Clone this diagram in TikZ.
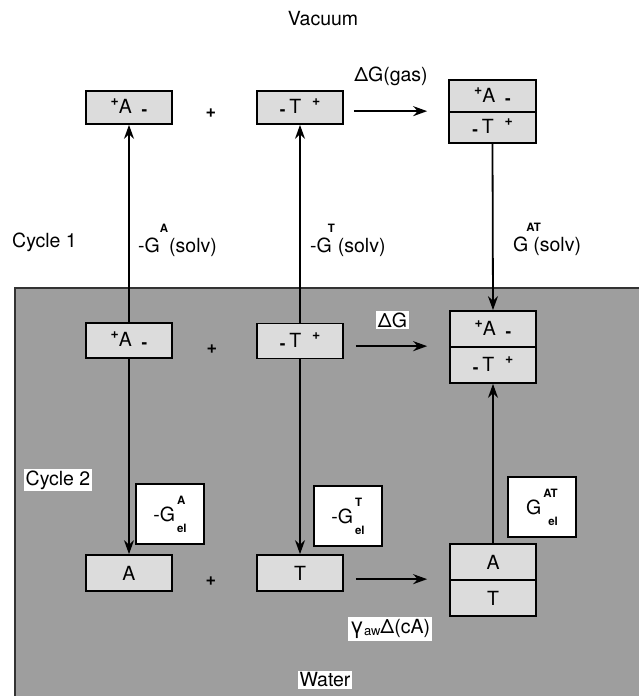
\documentclass[tikz,border=0pt]{standalone}
\usepackage{fontspec}
\setmainfont{TeX Gyre Heros}
\usetikzlibrary{arrows.meta}
\definecolor{waterg}{RGB}{158,158,158}
\definecolor{boxg}{RGB}{220,220,220}
\newcommand\upc[1]{\raisebox{0.40em}{\fontsize{14}{14}\selectfont\bfseries #1}}
\newcommand\dnc[1]{\raisebox{-0.12em}{\fontsize{17}{17}\selectfont\bfseries #1}}
\newcommand\supf[1]{{\fontsize{11.5}{12}\selectfont\bfseries #1}}
\newcommand\pA{\upc{+}A\hspace{0.5em}\dnc{-}}
\newcommand\mT{\dnc{-}\hspace{0.2em}T\hspace{0.55em}\upc{+}}
\begin{document}
\begin{tikzpicture}[x=1pt,y=-1pt,
  font=\fontsize{19.5}{22}\selectfont,
  box/.style={draw, line width=1.7pt, fill=boxg, inner sep=0pt, minimum width=86pt},
  lbl/.style={inner sep=0pt},
  wlbl/.style={fill=white, inner sep=2pt},
  gbox/.style={draw, line width=1.2pt, fill=white, inner sep=0pt, minimum width=68pt, minimum height=60pt},
  arr/.style={line width=1.8pt, -{Stealth[length=14pt,width=10pt]}},
  plus/.style={font=\fontsize{18}{18}\selectfont\bfseries}
]
\useasboundingbox (0,0) rectangle (638,696);
\fill[white] (0,0) rectangle (638,696);
\draw[line width=1.6pt, draw=black!80, fill=waterg] (15,288) rectangle (645,705);

\node[lbl] (vac) at (323,19) {Vacuum};

% top row
\node[box, minimum height=33pt] (A1) at (129,107.5) {\pA};
\node[plus] (p1) at (211,113) {+};
\node[box, minimum height=33pt] (T1) at (300,107.5) {\mT};
\node[box, minimum height=32pt, minimum width=87pt] (AT1a) at (492.5,96) {\pA};
\node[box, minimum height=31pt, minimum width=87pt] (AT1b) at (492.5,127.5) {\mT};

% water row
\node[box, minimum height=35pt] (A2) at (129,340.5) {\pA};
\node[plus] (p2) at (212,349) {+};
\node[box, minimum height=35pt] (T2) at (300,341) {\mT};
\node[box, minimum height=36pt] (AT2a) at (493,329) {\pA};
\node[box, minimum height=36pt] (AT2b) at (493,365) {\mT};

% bottom row
\node[box, minimum height=36pt] (A3) at (129,573) {A};
\node[plus] (p3) at (211,581) {+};
\node[box, minimum height=36pt] (T3) at (300,573) {T};
\node[box, minimum height=36pt] (AT3a) at (493,562) {A};
\node[box, minimum height=36pt] (AT3b) at (493,598) {T};

% horizontal arrows
\draw[arr, shorten <=10pt, shorten >=21pt] (T1.east |- AT1b.north west) -- (AT1b.north west);
\draw[arr, shorten <=12pt, shorten >=22pt] (T2.east |- AT2b.north west) -- (AT2b.north west);
\draw[arr, shorten <=12pt, shorten >=22pt] (T3.east |- AT3b.north west) -- (AT3b.north west);

% vertical arrows
\draw[arr] (A2.north) -- (A1.south);
\draw[arr] (T2.north) -- (T1.south);
\draw[arr] (AT1b.south) -- (AT2a.north);
\draw[arr] (A2.south) -- (A3.north);
\draw[arr] (T2.south) -- (T3.north);
\draw[arr] (AT3a.north) -- (AT2b.south);

% labels
\node[lbl] (dgas) at (391,76) {ΔG(gas)};
\node[lbl, anchor=base west] (cyc1) at (12,247) {Cycle 1};
\node[lbl, anchor=base west] (sA) at (138,252) {-G\raisebox{1em}{\supf{A}}\hspace{1pt}(solv)};
\node[lbl, anchor=base west] (sT) at (310,252) {-G\rlap{\hspace{-4pt}\raisebox{1em}{\supf{T}}}\hspace{6pt}(solv)};
\node[lbl, anchor=base west] (sAT) at (513,251) {G\rlap{\hspace{-2pt}\raisebox{1em}{\supf{AT}}}\hspace{5pt}(solv)};

\node[wlbl, inner sep=1.5pt] (dg) at (392.5,320) {ΔG};
\node[wlbl, inner sep=1.5pt] (cyc2) at (58,480) {Cycle 2};

\node[gbox] (gA) at (170,514) {-G\hspace{2pt}\rlap{\raisebox{0.9em}{\supf{A}}}\raisebox{-0.55em}{\supf{el}}};
\node[gbox] (gT) at (348,516) {-G\hspace{2pt}\rlap{\raisebox{0.9em}{\supf{T}}}\raisebox{-0.55em}{\supf{el}}};
\node[gbox] (gAT) at (542,507) {G\hspace{2pt}\rlap{\raisebox{0.9em}{\supf{AT}}}\raisebox{-0.55em}{\hspace{5pt}\supf{el}}};

\node[wlbl, inner sep=2pt] (gam) at (390,629) {{\fontsize{22}{22}\selectfont γ}\raisebox{-0.1em}{\fontsize{13}{13}\selectfont aw}Δ(cA)};
\node[wlbl, inner sep=1.5pt] (wat) at (325,680) {Water};
\end{tikzpicture}
\end{document}
